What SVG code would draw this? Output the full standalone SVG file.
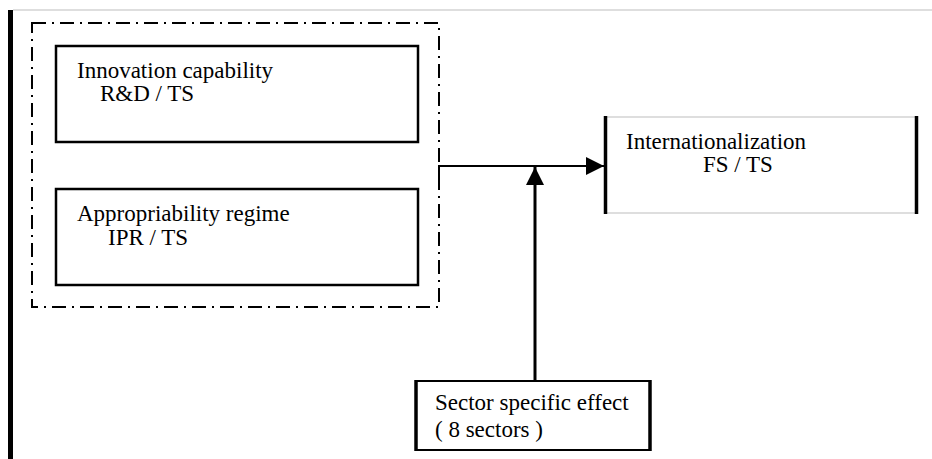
<svg xmlns="http://www.w3.org/2000/svg" width="932" height="459" viewBox="0 0 932 459">
<style>
  text { font-family: "Liberation Serif", "DejaVu Serif", serif; font-size: 23px; fill: #000; }
  .box { fill: #fff; stroke: #000; stroke-width: 2.5; }
  .side { stroke: #000; stroke-width: 3.5; }
  .thin { stroke: #bdbdbd; stroke-width: 1.2; }
  .group { fill: none; stroke: #000; stroke-width: 2; stroke-dasharray: 14 6 2 6; }
  .conn { fill: none; stroke: #000; }
</style>
<defs>
  <marker id="ah" markerUnits="userSpaceOnUse" markerWidth="18" markerHeight="18" viewBox="0 0 16 16" refX="16" refY="8" orient="auto">
    <path d="M0,0 L16,8 L0,16 Z" fill="#000"/>
  </marker>
</defs>
<rect width="932" height="459" fill="#fff"/>
<g id="frame">
  <line class="thin" x1="13" y1="10" x2="932" y2="10"/>
  <rect x="8" y="10" width="5" height="449" fill="#000"/>
</g>
<g id="group-box">
  <rect class="group" x="32" y="23" width="407" height="284"/>
</g>
<g id="innovation">
  <rect class="box" x="56" y="46" width="362" height="96"/>
  <text x="77" y="78">Innovation capability</text>
  <text x="100" y="101">R&amp;D / TS</text>
</g>
<g id="appropriability">
  <rect class="box" x="56" y="189" width="362" height="96"/>
  <text x="77" y="221">Appropriability regime</text>
  <text x="108" y="245">IPR / TS</text>
</g>
<g id="internationalization">
  <rect x="605" y="117" width="312" height="96" fill="#fff"/>
  <line class="thin" x1="605" y1="117" x2="917" y2="117"/>
  <line class="thin" x1="605" y1="213" x2="917" y2="213"/>
  <line class="side" x1="605.5" y1="116" x2="605.5" y2="214"/>
  <line class="side" x1="916.5" y1="116" x2="916.5" y2="214"/>
  <text x="626" y="149">Internationalization</text>
  <text x="703" y="172">FS / TS</text>
</g>
<g id="sector">
  <rect x="416" y="381" width="234" height="69" fill="#fff" stroke="#000" stroke-width="2"/>
  <line class="side" x1="416" y1="380" x2="416" y2="451"/>
  <line class="side" x1="650" y1="380" x2="650" y2="451"/>
  <text x="435" y="410">Sector specific effect</text>
  <text x="435" y="437">( 8 sectors )</text>
</g>
<g id="connectors">
  <path class="conn" stroke-width="2" d="M439,176 V166 H604" marker-end="url(#ah)"/>
  <path class="conn" stroke-width="3" d="M535,380 V167" marker-end="url(#ah)"/>
</g>
</svg>
